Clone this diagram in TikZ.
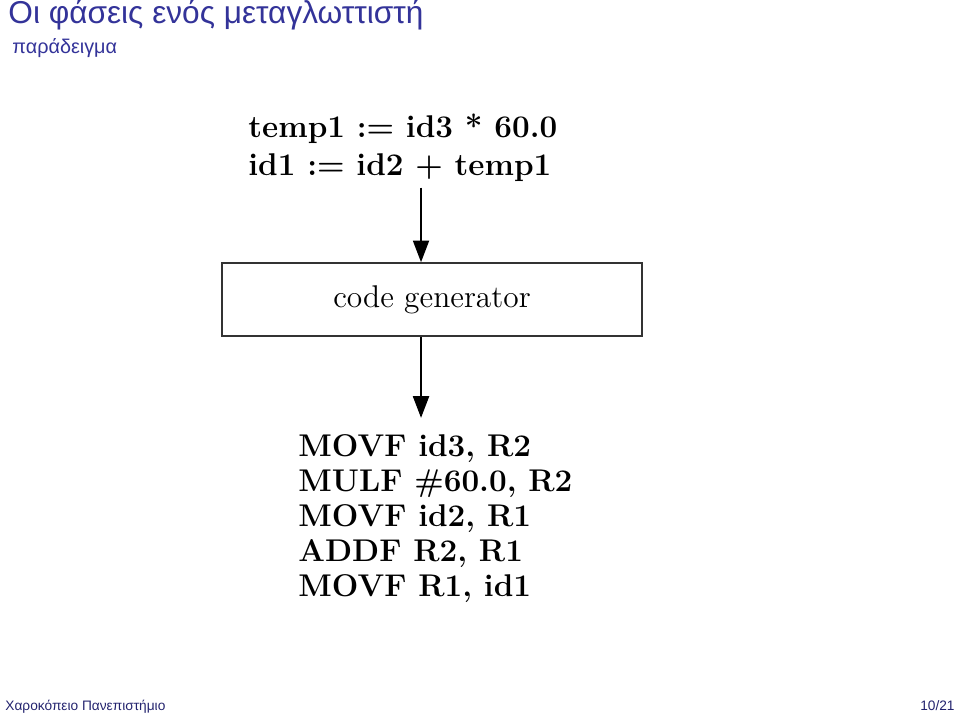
\documentclass[tikz,border=0pt]{standalone}
\usepackage{fontspec}
\newfontfamily\grsans{Liberation Sans}
\usetikzlibrary{arrows.meta, positioning}
\definecolor{titleblue}{RGB}{51,51,153}
\definecolor{footblue}{RGB}{35,35,110}

\begin{document}
\begin{tikzpicture}[
    frametitle/.style={anchor=base west, inner sep=0pt, text=titleblue, font=\grsans\fontsize{15}{18}\selectfont},
    framesub/.style={anchor=base west, inner sep=0pt, text=titleblue, font=\grsans\fontsize{9.4}{11}\selectfont},
    footer/.style={inner sep=0pt, text=footblue, font=\grsans\fontsize{6.5}{8}\selectfont},
    stage/.style={draw=black!80, line width=0.8pt, minimum width=7cm, minimum height=1.217cm, font=\fontsize{14.9}{17}\selectfont},
    codetext/.style={align=left, anchor=base west, inner sep=0pt, font=\bfseries\fontsize{14.9}{16.6}\selectfont},
    flow/.style={-{Triangle[width=0.27cm, length=0.36cm]}, line width=0.6pt}
  ]
  \useasboundingbox (0,0) rectangle (16,11.967);

  % slide title and subtitle
  \node[frametitle] (title) at (0.133,11.583) {Οι φάσεις ενός μεταγλωττιστή};
  \node[framesub] (subtitle) at (0.2,11.083) {παράδειγμα};

  % intermediate code
  \node[codetext, font=\bfseries\fontsize{14.9}{17.6}\selectfont] (inter) at (4.133,9.05)
    {temp1 := id3 * 60.0\\ id1 := id2 + temp1};

  % the phase
  \node[stage] (gen) at (7.2,6.975) {code generator};

  % target code
  \node[codetext] (target) at (4.967,2.017)
    {MOVF id3, R2\\ MULF \#60.0, R2\\ MOVF id2, R1\\ ADDF R2, R1\\ MOVF R1, id1};

  % arrows
  \coordinate (axis) at (7.017,0);
  \draw[flow, shorten <=0.1cm] (inter.south -| axis) -- (gen.north -| axis);
  \draw[flow, shorten >=0.28cm] (gen.south -| axis) -- (target.north -| axis);

  % footline
  \node[footer, anchor=base west] (inst) at (0.083,0.133) {Χαροκόπειο Πανεπιστήμιο};
  \node[footer, anchor=base east] (page) at (15.917,0.133) {10/21};
\end{tikzpicture}
\end{document}
